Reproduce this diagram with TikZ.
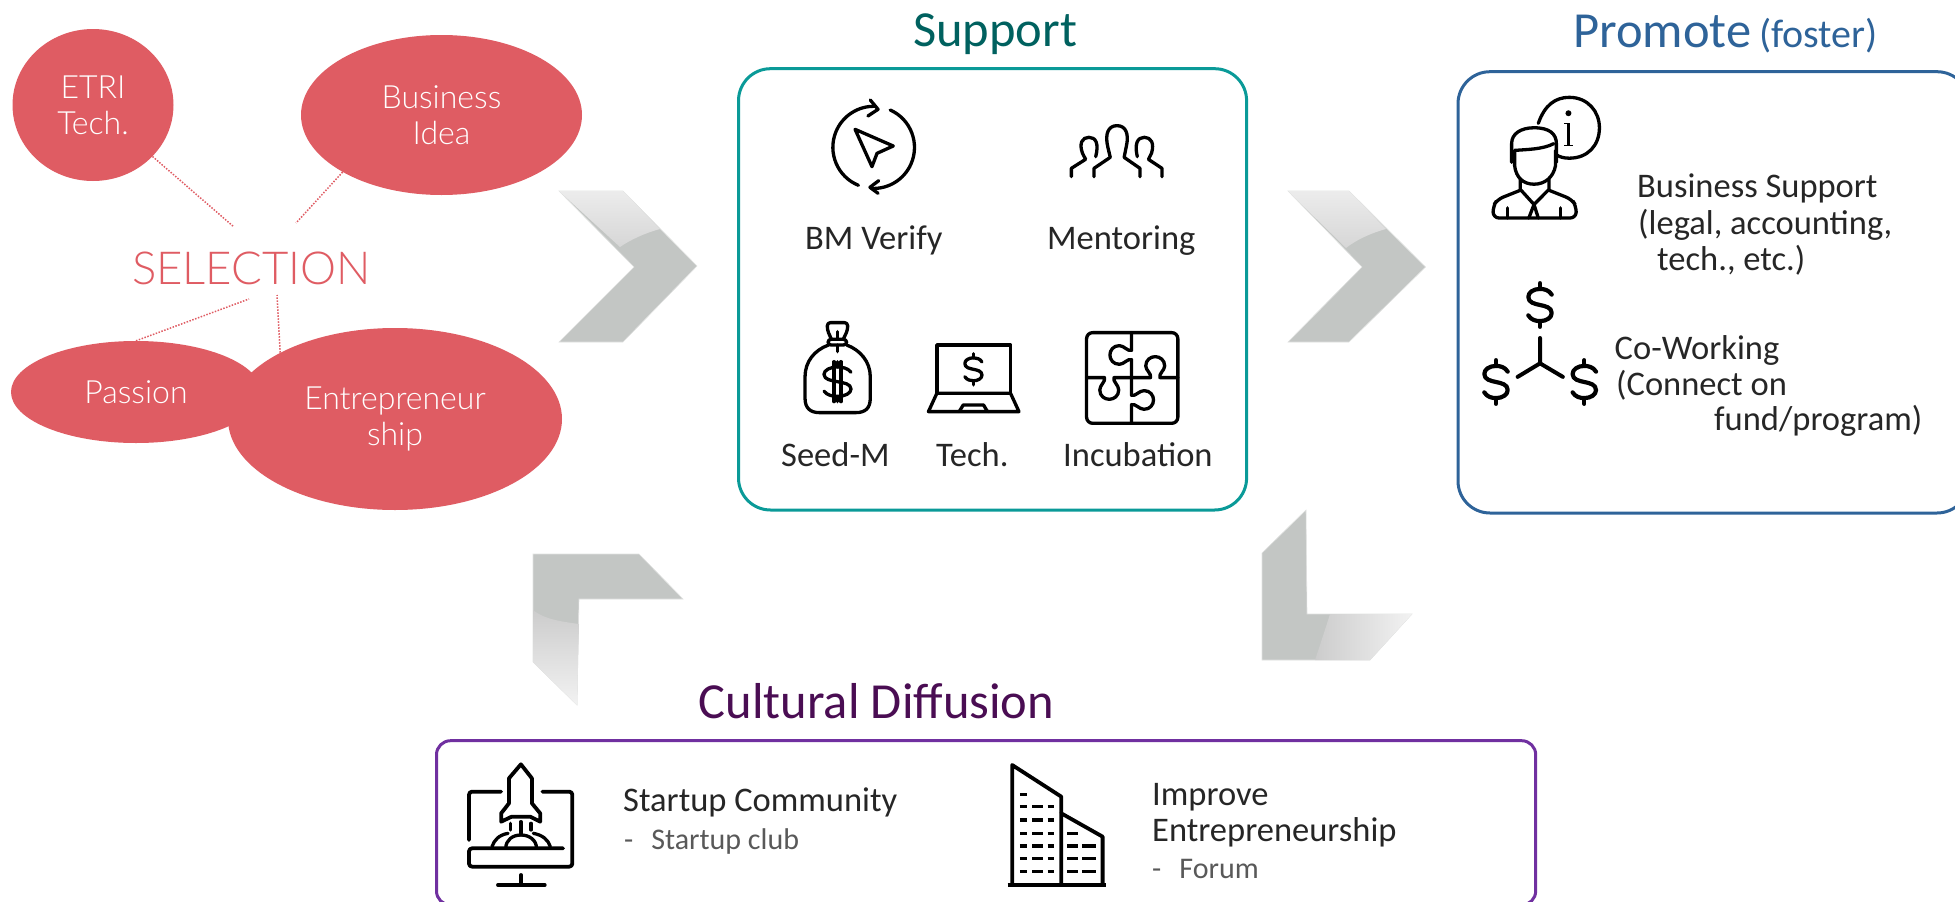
\documentclass[tikz,border=0pt]{standalone}
\usepackage{fontspec}
\setmainfont{Carlito}
\newfontfamily\thinfont{Lato Light}
\usetikzlibrary{shapes.geometric}

\definecolor{selred}{HTML}{DF5C63}
\definecolor{supteal}{HTML}{0A9A98}
\definecolor{suptitle}{HTML}{00615F}
\definecolor{problue}{HTML}{2E6399}
\definecolor{cultbox}{HTML}{7030A0}
\definecolor{culttitle}{HTML}{4A0D53}
\definecolor{inktext}{HTML}{262626}
\definecolor{subtext}{HTML}{595959}
\definecolor{chevgray}{HTML}{C3C6C4}

\tikzset{
  bubble/.style={ellipse,fill=selred,inner sep=0pt,text=white,align=center,
    font=\thinfont\fontsize{32}{36}\selectfont},
  dotline/.style={selred,dash pattern=on 1.5pt off 1.5pt,line width=1.5pt},
  framebox/.style={line width=3pt,rounded corners=32pt},
  title/.style={anchor=base west,inner sep=0pt,font=\fontsize{50.5}{50}\selectfont},
  lbl/.style={anchor=base west,inner sep=0pt,text=inktext,font=\fontsize{34.5}{36}\selectfont},
  sublbl/.style={anchor=base west,inner sep=0pt,text=subtext,font=\fontsize{30}{30}\selectfont},
  icon/.style={line width=3.3pt,line join=round,line cap=round},
  chevron/.style={fill=chevgray,draw=chevgray!50,line width=.6pt},
  dollar/.pic={
    \draw[line join=round,line cap=round,pic actions] (9,-9) .. controls (7,-13) and (3,-14) .. (0,-14)
      .. controls (-5,-14) and (-9,-11) .. (-9,-7)
      .. controls (-9,-2) and (-4,-1) .. (0,0)
      .. controls (4,1) and (9,2) .. (9,7)
      .. controls (9,11) and (5,14) .. (0,14)
      .. controls (-3,14) and (-7,13) .. (-9,9);
    \draw[line cap=round,pic actions] (0,-14) -- (0,-19);
    \draw[line cap=round,pic actions] (0,14) -- (0,19);
  }
}

\begin{document}
\begin{tikzpicture}[x=1pt,y=-1pt]
\clip (0,0) rectangle (1955,902);

% {Selection};
\begin{scope}
\node[bubble,minimum width=161pt,minimum height=152pt] (etri) at (93,105) {ETRI\\Tech.};
\node[bubble,minimum width=281pt,minimum height=160pt] (bizidea) at (441.5,115) {Business\\Idea};
\node[bubble,minimum width=250pt,minimum height=102pt] (passion) at (136,392) {Passion};
\node[bubble,minimum width=334pt,minimum height=182pt] (entre) at (395,419) {Entrepreneur\\ship};
\node[anchor=base west,inner sep=0pt,text=selred,font=\thinfont\fontsize{45.5}{46}\selectfont] (selection) at (132,284) {SELECTION};

\coordinate (selA) at (234,227);
\coordinate (selB) at (296,223);
\coordinate (selC) at (249,299);
\coordinate (selD) at (277,295);
\draw[dotline] (etri) -- (selA);
\draw[dotline] (bizidea.210) -- (selB);
\draw[dotline] (passion.north) -- (selC);
\draw[dotline] (entre.150) -- (selD);
\end{scope}

% {Chevrons};
\fill[chevron] (559,191) -- (623,191) -- (697,266) -- (623,342) -- (559,342) -- (634,267) -- cycle;
\shade[top color=gray!15,bottom color=gray!32] (559,191) -- (623,191) -- (660,229) .. controls (645,233) and (630,240) .. (620,247) -- cycle;
\fill[chevron] (1288,191) -- (1349,191) -- (1425.5,267) -- (1349,342) -- (1288,342) -- (1362,267) -- cycle;
\shade[top color=gray!15,bottom color=gray!32] (1288,191) -- (1349,191) -- (1386,229) .. controls (1371,233) and (1356,240) .. (1346,248) -- cycle;
\fill[chevron] (533,554) -- (639,554) -- (683,599) -- (579,599) -- (577,705) -- (533,662) -- cycle;
\shade[top color=gray!40,bottom color=gray!10] (533,610) .. controls (545,620) and (565,622) .. (579,624) -- (577,705) -- (533,662) -- cycle;
\fill[chevron] (1306,510) -- (1262,553) -- (1262,660) -- (1370,660) -- (1412,614) -- (1307,614) -- cycle;
\shade[left color=gray!40,right color=gray!10] (1330,614) -- (1412,614) -- (1370,660) -- (1315,660) .. controls (1320,645) and (1325,630) .. (1330,614) -- cycle;

% {Support};
\begin{scope}
\node[title,text=suptitle] (suphead) at (913,46.7) {Support};
\draw[framebox,draw=supteal] (738.5,68.7) rectangle (1246.6,510);
\node[lbl] (bmverify) at (805,249) {BM Verify};
\node[lbl] (mentoring) at (1047,249) {Mentoring};
\node[lbl] (seedm) at (781,466) {Seed-M};
\node[lbl] (techlbl) at (936,466) {Tech.};
\node[lbl] (incub) at (1063,466) {Incubation};

\pic[line width=3.3pt,xscale=1.5,yscale=1.05] at (837.5,381.7) {dollar};
\pic[line width=3.3pt,xscale=.95,yscale=.82] at (973.4,369.3) {dollar};

% icons, in the crop's own grid
\begin{scope}[x=.338pt,y=-.3333pt,xshift=730pt,yshift=-60pt]
\draw[icon] (380,376) arc[start angle=112,end angle=272,x radius=121,y radius=123] ;
\draw[icon] (415,120) -- (438,148) -- (408,168);
\draw[icon] (474,150) arc[start angle=-66,end angle=93,x radius=121,y radius=123];
\draw[icon] (440,362) -- (414,382) -- (438,400);
\draw[icon] (370,208) -- (483,258) -- (435,280) -- (420,320) -- cycle;
% people
\draw[icon] (1077,350) -- (1077,325) -- (1125,292) -- (1118,262) .. controls (1108,220) and (1120,197) .. (1145,197)
  .. controls (1170,197) and (1182,220) .. (1172,262) -- (1166,292) -- (1213,325) -- (1213,350);
\draw[icon] (1010,350) -- (1010,325) -- (1052,298) -- (1043,280) .. controls (1032,250) and (1042,232) .. (1062,232)
  .. controls (1082,232) and (1092,250) .. (1082,290);
\draw[icon] (1278,350) -- (1278,325) -- (1238,298) -- (1247,280) .. controls (1256,250) and (1246,232) .. (1226,232)
  .. controls (1206,232) and (1196,250) .. (1205,290);
% bag
\draw[icon] (292,855) .. controls (250,870) and (222,905) .. (222,950) -- (222,1015)
  .. controls (222,1045) and (238,1058) .. (265,1058) -- (372,1058)
  .. controls (400,1058) and (415,1045) .. (415,1015) -- (415,950) .. controls (415,905) and (385,870) .. (345,855);
\draw[icon,rounded corners=3pt] (290,838) rectangle (345,855);
\draw[icon,rounded corners=3pt] (300,838) -- (288,810) -- (288,788) -- (348,788) -- (348,810) -- (335,838);
\draw[icon] (318,815) -- (318,838);
\draw[icon] (318,855) -- (318,875);
\draw[icon] (308,905) -- (308,1025);
\draw[icon] (328,905) -- (328,1025);
% laptop
\draw[icon] (612,1000) -- (612,855) -- (830,855) -- (830,1000);
\draw[icon] (612,1000) -- (830,1000) -- (855,1055) -- (587,1055) -- cycle;
\draw[icon] (678,1055) -- (690,1035) -- (750,1035) -- (762,1055);
% puzzle
\draw[icon,rounded corners=6pt] (1055,818) rectangle (1325,1090);
\draw[icon] (1188,818) -- (1188,871) .. controls (1176,875) and (1166,857) .. (1152,857) .. controls (1134,857) and (1124,871) .. (1124,885)
  .. controls (1124,899) and (1134,913) .. (1152,913) .. controls (1166,913) and (1176,895) .. (1188,899) -- (1188,1006)
  .. controls (1200,1010) and (1210,992) .. (1225,992) .. controls (1243,992) and (1253,1006) .. (1253,1020)
  .. controls (1253,1034) and (1243,1048) .. (1225,1048) .. controls (1210,1048) and (1200,1030) .. (1188,1034) -- (1188,1090);
\draw[icon] (1055,953) -- (1108,953) .. controls (1112,965) and (1094,975) .. (1094,990) .. controls (1094,1008) and (1108,1018) .. (1122,1018)
  .. controls (1136,1018) and (1150,1008) .. (1150,990) .. controls (1150,975) and (1132,965) .. (1136,953) -- (1244,953)
  .. controls (1248,941) and (1230,931) .. (1230,918) .. controls (1230,900) and (1244,890) .. (1258,890)
  .. controls (1272,890) and (1286,900) .. (1286,918) .. controls (1286,931) and (1268,941) .. (1272,953) -- (1325,953);
\end{scope}
\end{scope}

% {Promote};
\begin{scope}
\node[title,text=problue] (prohead) at (1573,47.3) {Promote};
\node[anchor=base west,inner sep=0pt,text=problue,font=\fontsize{40}{40}\selectfont] (fosterlbl) at (1759,47.3) {(foster)};
\draw[framebox,draw=problue] (1458,71.7) rectangle (1969,513);
\node[lbl] (bizsup) at (1637,197.8) {Business Support};
\node[lbl] (legal) at (1638,234.3) {(legal, accounting,};
\node[lbl] (etc) at (1657,270.5) {tech., etc.)};
\node[lbl] (cowork) at (1614.5,359) {Co-Working};
\node[lbl] (connect) at (1616,395.5) {(Connect on};
\node[lbl] (fund) at (1714,430) {fund/program)};

\pic[line width=4.2pt,xscale=1.3,yscale=1.15] at (1540,305) {dollar};
\pic[line width=4.2pt,xscale=1.3,yscale=1.15] at (1496,382) {dollar};
\pic[line width=4.2pt,xscale=1.3,yscale=1.15] at (1584.3,382) {dollar};

\begin{scope}[x=.4305pt,y=-.338pt,xshift=1280pt]
\draw[icon,line width=4pt] (604,1000) -- (604,1075) -- (552,1115);
\draw[icon,line width=4pt] (604,1075) -- (657,1115);
% person
\draw[icon] (600,365) .. controls (615,310) and (640,288) .. (672,288) .. controls (715,288) and (742,330) .. (742,378)
  .. controls (742,430) and (715,468) .. (672,468) .. controls (660,468) and (650,465) .. (642,458);
\fill (670,335) circle[radius=3pt];
\draw[line width=2.4pt] (670,365) -- (670,430);
\draw[line width=1.6pt] (660,365) -- (670,365);
\draw[line width=1.6pt] (660,430) -- (680,430);
\draw[icon] (538,480) -- (538,425) .. controls (538,395) and (560,378) .. (590,378) .. controls (625,378) and (642,395) .. (642,425) -- (642,480);
\draw[icon] (545,445) .. controls (575,442) and (610,442) .. (636,425);
\draw[icon] (545,445) -- (545,490) .. controls (548,525) and (565,545) .. (590,545) .. controls (615,545) and (635,525) .. (640,490) -- (640,445);
\draw[icon] (558,530) -- (558,560) -- (590,605) -- (625,560) -- (625,530);
\draw[icon,rounded corners=6pt] (558,563) -- (505,590) -- (495,610) -- (495,645) -- (688,645) -- (688,610) -- (678,590) -- (625,563);
\draw[icon] (590,605) -- (578,645);
\draw[icon] (590,605) -- (600,645);
\draw[icon] (528,615) -- (528,645);
\draw[icon] (652,615) -- (652,645);
\end{scope}
\end{scope}

% {Cultural Diffusion};
\begin{scope}
\node[title,text=culttitle] (culthead) at (698.6,718) {Cultural Diffusion};
\draw[line width=3pt,rounded corners=14pt,draw=cultbox] (436.5,740.7) rectangle (1535.7,905);
\node[lbl] (community) at (623,811.7) {Startup Community};
\node[sublbl] (club) at (624,849) {-\hspace{18pt}Startup club};
\node[lbl] (improve) at (1152,805) {Improve};
\node[lbl] (entreship) at (1152,841) {Entrepreneurship};
\node[sublbl] (forum) at (1152,878) {-\hspace{18pt}Forum};

\begin{scope}[x=.4591pt,y=-.3333pt,xshift=430pt,yshift=-670pt]
% monitor and rocket
\draw[icon,rounded corners=3pt,line width=3.8pt] (155,365) -- (85,365) -- (85,510);
\draw[icon,rounded corners=3pt,line width=3.8pt] (245,365) -- (310,365) -- (310,590) -- (85,590) -- (85,535) -- (290,535);
\draw[icon,line width=3.8pt] (198,615) -- (198,645);
\draw[icon,line width=3.8pt] (148,645) -- (250,645);
\draw[icon,line width=3.8pt] (198,283) -- (172,325) -- (172,400) -- (155,430) -- (155,455) -- (178,440) -- (218,440) -- (240,455) -- (240,430) -- (222,400) -- (222,325) -- cycle;
\draw[icon] (175,460) -- (175,480);
\draw[icon] (198,455) -- (198,495);
\draw[icon] (220,460) -- (220,480);
\draw[icon] (165,535) .. controls (165,510) and (180,495) .. (198,495) .. controls (216,495) and (232,510) .. (232,535);
\draw[icon] (135,530) .. controls (140,510) and (150,495) .. (170,490);
\draw[icon] (225,490) .. controls (245,495) and (258,510) .. (262,530);
% building
\draw[line width=4pt] (1258,645) -- (1472,645);
\draw[icon,line width=3.8pt] (1268,645) -- (1268,285) -- (1375,380) -- (1375,645);
\draw[icon,line width=3.8pt] (1375,430) -- (1465,500) -- (1465,645);
\draw[line width=3.6pt] (1285,373) -- (1300,373);
\foreach \rowy in {410,450,490,528,566,604} {
  \draw[line width=3.6pt] (1285,\rowy) -- (1300,\rowy);
  \draw[line width=3.6pt] (1312,\rowy) -- (1335,\rowy);
  \draw[line width=3.6pt] (1345,\rowy) -- (1360,\rowy);
}
\draw[line width=3.6pt] (1388,490) -- (1412,490);
\foreach \rowy in {528,566,604} {
  \draw[line width=3.6pt] (1388,\rowy) -- (1412,\rowy);
  \draw[line width=3.6pt] (1420,\rowy) -- (1450,\rowy);
}
\end{scope}
\end{scope}

\end{tikzpicture}
\end{document}
